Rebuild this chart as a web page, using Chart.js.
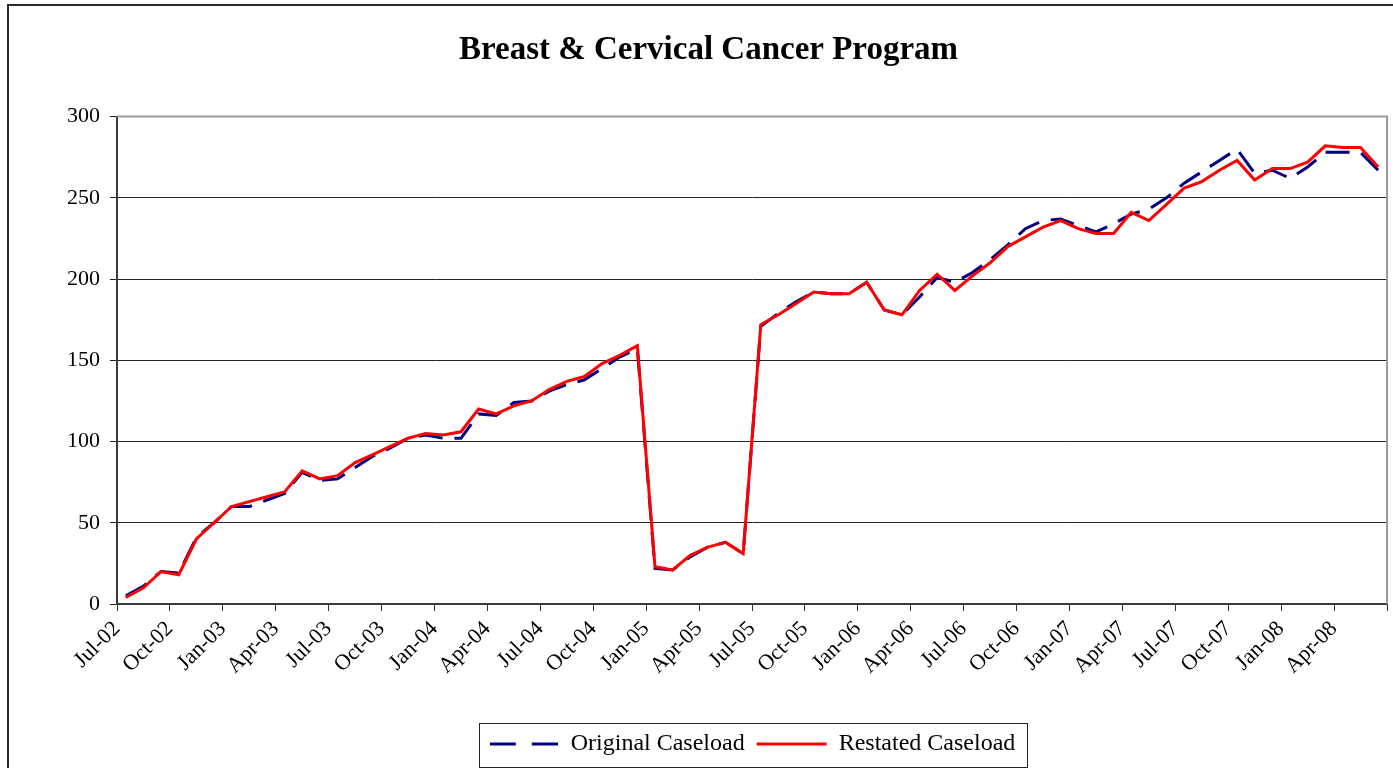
<!DOCTYPE html>
<html><head><meta charset="utf-8">
<script src="https://cdn.jsdelivr.net/npm/chart.js@4"></script>
<style>
html,body{margin:0;padding:0;background:#fff;}
#wrap{position:relative;width:1393px;height:768px;overflow:hidden;background:#fff;}
#frame{position:absolute;left:7px;top:4px;width:2000px;height:2000px;border-left:2px solid #2a2a2a;border-top:2px solid #2a2a2a;}
canvas{position:absolute;left:0;top:0;}
</style></head><body>
<div id="wrap"><div id="frame"></div><canvas id="c" width="1393" height="768"></canvas></div>
<script>
const months = [
  'Jul-02','Aug-02','Sep-02','Oct-02','Nov-02','Dec-02',
  'Jan-03','Feb-03','Mar-03','Apr-03','May-03','Jun-03','Jul-03','Aug-03','Sep-03','Oct-03','Nov-03','Dec-03',
  'Jan-04','Feb-04','Mar-04','Apr-04','May-04','Jun-04','Jul-04','Aug-04','Sep-04','Oct-04','Nov-04','Dec-04',
  'Jan-05','Feb-05','Mar-05','Apr-05','May-05','Jun-05','Jul-05','Aug-05','Sep-05','Oct-05','Nov-05','Dec-05',
  'Jan-06','Feb-06','Mar-06','Apr-06','May-06','Jun-06','Jul-06','Aug-06','Sep-06','Oct-06','Nov-06','Dec-06',
  'Jan-07','Feb-07','Mar-07','Apr-07','May-07','Jun-07','Jul-07','Aug-07','Sep-07','Oct-07','Nov-07','Dec-07',
  'Jan-08','Feb-08','Mar-08','Apr-08','May-08','Jun-08'
];
const originalCaseload = [
  5, 11, 20, 19, 41, 50,
  60, 60, 64, 68, 81, 76, 77, 84, 91, 96, 102, 104,
  102, 102, 117, 116, 124, 125, 131, 135, 138, 145, 152, 157,
  22, 21, 29, 35, 38, 31, 171, 179, 186, 192, 191, 191,
  198, 181, 178, 189, 201, 198, 204, 212, 221, 231, 236, 237,
  233, 229, 234, 240, 243, 250, 259, 266, 273, 280, 265, 267,
  262, 269, 278, 278, 278, 267
];
const restatedCaseload = [
  4, 10, 20, 18, 40, 50,
  60, 63, 66, 69, 82, 77, 79, 87, 92, 97, 102, 105,
  104, 106, 120, 117, 122, 125, 132, 137, 140, 148, 153, 159,
  23, 21, 30, 35, 38, 31, 172, 178, 185, 192, 191, 191,
  198, 181, 178, 193, 203, 193, 202, 210, 220, 226, 232, 236,
  231, 228, 228, 241, 236, 246, 256, 260, 267, 273, 261, 268,
  268, 272, 282, 281, 281, 269
];
const yMin = 0, yMax = 300, yStep = 50;
const labelEvery = 3;

const serif = "'Liberation Serif','Times New Roman',serif";

// dashed legend sample (Chart.js does not apply borderDash to point-style legend markers)
function dashedSample(color) {
  const c = document.createElement('canvas');
  c.width = 68; c.height = 4;
  const g = c.getContext('2d');
  g.strokeStyle = color; g.lineWidth = 3;
  g.setLineDash([26, 16]);
  g.beginPath(); g.moveTo(0, 2); g.lineTo(68, 2); g.stroke();
  return c;
}

const plotBorder = {
  id: 'plotBorder',
  beforeDatasetsDraw(chart) {
    const {ctx, chartArea: a} = chart;
    ctx.save();
    ctx.strokeStyle = '#9a9a9a';
    ctx.lineWidth = 2;
    ctx.beginPath();
    ctx.moveTo(a.left, a.top);
    ctx.lineTo(a.right, a.top);
    ctx.lineTo(a.right, a.bottom);
    ctx.stroke();
    ctx.restore();
  }
};
const legendBox = {
  id: 'legendBox',
  afterDraw(chart) {
    const hb = chart.legend && chart.legend.legendHitBoxes;
    if (!hb || !hb.length) return;
    let l = Infinity, r = -Infinity, t = Infinity, b = -Infinity;
    hb.forEach(h => { l = Math.min(l, h.left); r = Math.max(r, h.left + h.width); t = Math.min(t, h.top); b = Math.max(b, h.top + h.height); });
    const ctx = chart.ctx;
    ctx.save();
    ctx.strokeStyle = '#222';
    ctx.lineWidth = 1;
    ctx.strokeRect(Math.round(l - 10) + 0.5, Math.round(t - 9) + 0.5, Math.round(r - l + 21), Math.round(b - t + 20));
    ctx.restore();
  }
};
const titleShift = {
  id: 'titleShift',
  afterLayout(chart) {
    const t = chart.titleBlock;
    if (t) { t.left = 30; t.width = t.right - t.left; }
  }
};

new Chart(document.getElementById('c'), {
  type: 'line',
  data: {
    labels: months,
    datasets: [
      { label: 'Original Caseload', data: originalCaseload, borderColor: '#000080', backgroundColor: '#000080',
        borderWidth: 3, borderDash: [24, 12], pointRadius: 0, pointHoverRadius: 0, pointStyle: dashedSample('#000080'),
        tension: 0, fill: false, order: 1 },
      { label: 'Restated Caseload', data: restatedCaseload, borderColor: '#ff0000', backgroundColor: '#ff0000',
        borderWidth: 3, pointRadius: 0, pointHoverRadius: 0, pointStyle: 'line',
        tension: 0, fill: false, order: 0 }
    ]
  },
  options: {
    responsive: false,
    animation: false,
    devicePixelRatio: 1,
    layout: { padding: { top: 31, left: 0, right: 6, bottom: 2 } },
    plugins: {
      title: { display: true, text: 'Breast & Cervical Cancer Program', color: '#000',
        font: { family: serif, size: 33, weight: 'bold' }, padding: { top: 0, bottom: 46 } },
      legend: { position: 'bottom', fullSize: false,
        labels: { usePointStyle: true, pointStyleWidth: 70, padding: 12, color: '#000',
          font: { family: serif, size: 24 }, sort: (a, b) => a.datasetIndex - b.datasetIndex } },
      tooltip: { enabled: false }
    },
    scales: {
      x: {
        offset: true,
        grid: { offset: true, drawOnChartArea: false, drawTicks: true, tickLength: 7, lineWidth: 1,
          color: (c) => (c.index === undefined || c.index % labelEvery === 0) ? '#333' : 'rgba(0,0,0,0)' },
        border: { display: true, color: '#3a3a3a', width: 2 },
        ticks: { autoSkip: false, maxRotation: 45, minRotation: 45, labelOffset: -9, padding: 5, color: '#000',
          font: { family: serif, size: 22 },
          callback: function (v, i) { return i % labelEvery === 0 ? this.getLabelForValue(v) : ''; } },
        afterFit: (s) => { s.height = 116; s.paddingRight = 0; s.paddingLeft = 0; }
      },
      y: {
        min: yMin, max: yMax,
        ticks: { stepSize: yStep, padding: 10, color: '#000', font: { family: serif, size: 22 } },
        grid: { color: '#222', lineWidth: 1, tickLength: 7 },
        border: { display: true, color: '#3a3a3a', width: 2 },
        afterFit: (s) => { s.width = 117; }
      }
    }
  },
  plugins: [plotBorder, legendBox, titleShift]
});
</script>
</body></html>
